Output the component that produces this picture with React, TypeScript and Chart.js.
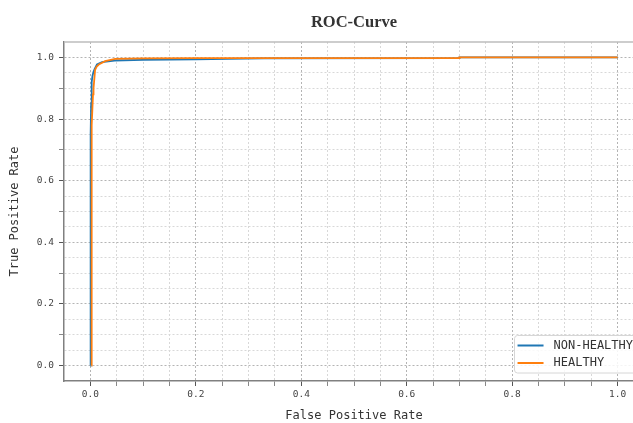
import { useEffect, useRef } from 'react';
import { Chart, registerables } from 'chart.js';

Chart.register(...registerables);

const chartTitle = 'ROC-Curve';
const xAxisTitle = 'False Positive Rate';
const yAxisTitle = 'True Positive Rate';
const seriesNames = ['NON-HEALTHY', 'HEALTHY'];
const seriesColors = ['#1f77b4', '#ff7f0e'];

const nonHealthyFpr = [0, 0, 0.0005, 0.001, 0.0015, 0.002, 0.003, 0.004, 0.006, 0.008, 0.0125, 0.022, 0.046, 0.1, 0.2, 0.26, 0.33, 0.7, 0.7, 1.0];
const nonHealthyTpr = [0, 0.45, 0.6, 0.75, 0.85, 0.89, 0.92, 0.94, 0.953, 0.962, 0.977, 0.985, 0.99, 0.992, 0.994, 0.995, 0.997, 0.998, 1.0, 1.0];

const healthyFpr = [0.002, 0.002, 0.0025, 0.003, 0.004, 0.005, 0.006, 0.008, 0.009, 0.012, 0.016, 0.028, 0.047, 0.1, 0.2, 0.7, 0.7, 1.0];
const healthyTpr = [0, 0.3, 0.6, 0.78, 0.84, 0.88, 0.9, 0.94, 0.96, 0.97, 0.977, 0.988, 0.995, 0.997, 0.998, 0.998, 1.0, 1.0];

const axisMin = -0.05;
const axisMax = 1.05;
const gridStep = 0.05;
const labelStep = 0.2;
const yTickStep = 0.1;

const mono = 'DejaVu Sans Mono';

function isMultiple(v: number, step: number) {
  const r = v / step;
  return Math.abs(r - Math.round(r)) < 1e-6;
}

function toPoints(xs: number[], ys: number[]) {
  return xs.map((x, i) => ({ x, y: ys[i] }));
}

const extrasPlugin = {
  id: 'rocExtras',
  afterDraw(chart: any) {
    const { ctx, chartArea } = chart;
    ctx.save();
    ctx.strokeStyle = '#bdbdbd';
    ctx.lineWidth = 1.5;
    ctx.beginPath();
    ctx.moveTo(chartArea.left, chartArea.top);
    ctx.lineTo(chartArea.right, chartArea.top);
    ctx.stroke();
    ctx.beginPath();
    ctx.moveTo(chartArea.right, chartArea.top);
    ctx.lineTo(chartArea.right, chartArea.bottom);
    ctx.stroke();

    // title centred over the plot area
    ctx.font = `bold 16.5px "Liberation Serif"`;
    ctx.fillStyle = '#333';
    ctx.textAlign = 'center';
    ctx.textBaseline = 'middle';
    ctx.fillText(chartTitle, (chartArea.left + chartArea.right) / 2, 22.5);

    ctx.font = `12px "${mono}"`;
    const textW = Math.max(...seriesNames.map((n) => ctx.measureText(n).width));
    const boxW = textW + 42;
    const boxH = 37.5;
    const right = chartArea.right - 8;
    const bottom = chartArea.bottom - 8;
    const left = right - boxW;
    const top = bottom - boxH;
    const r = 3;
    ctx.beginPath();
    ctx.moveTo(left + r, top);
    ctx.lineTo(right - r, top);
    ctx.arcTo(right, top, right, top + r, r);
    ctx.lineTo(right, bottom - r);
    ctx.arcTo(right, bottom, right - r, bottom, r);
    ctx.lineTo(left + r, bottom);
    ctx.arcTo(left, bottom, left, bottom - r, r);
    ctx.lineTo(left, top + r);
    ctx.arcTo(left, top, left + r, top, r);
    ctx.closePath();
    ctx.fillStyle = 'rgba(255,255,255,0.85)';
    ctx.fill();
    ctx.strokeStyle = '#d6d6d6';
    ctx.lineWidth = 1;
    ctx.stroke();

    seriesNames.forEach((name, i) => {
      const cy = top + 10 + i * 17.5;
      ctx.strokeStyle = seriesColors[i];
      ctx.lineWidth = 2;
      ctx.beginPath();
      ctx.moveTo(left + 3, cy);
      ctx.lineTo(left + 29, cy);
      ctx.stroke();
      ctx.fillStyle = '#333';
      ctx.textBaseline = 'middle';
      ctx.textAlign = 'left';
      ctx.fillText(name, left + 39, cy);
    });
    ctx.restore();
  },
};

export default function App() {
  const canvasRef = useRef<HTMLCanvasElement | null>(null);

  useEffect(() => {
    const canvas = canvasRef.current;
    if (!canvas) return;
    const gridColor = (ctx: any) => {
      const v = ctx.tick?.value;
      if (v === undefined) return 'transparent';
      if (v < -1e-6 || v > 1 + 1e-6) return 'transparent';
      return isMultiple(v, labelStep) ? '#b4b4b4' : '#d8d8d8';
    };
    const chart = new Chart(canvas, {
      type: 'line',
      data: {
        datasets: [
          {
            label: seriesNames[0],
            data: toPoints(nonHealthyFpr, nonHealthyTpr),
            borderColor: seriesColors[0],
            backgroundColor: seriesColors[0],
            borderWidth: 1.8,
            pointRadius: 0,
            tension: 0,
            fill: false,
            order: 1,
          },
          {
            label: seriesNames[1],
            data: toPoints(healthyFpr, healthyTpr),
            borderColor: seriesColors[1],
            backgroundColor: seriesColors[1],
            borderWidth: 1.8,
            pointRadius: 0,
            tension: 0,
            fill: false,
            order: 0,
          },
        ],
      },
      options: {
        responsive: false,
        animation: false,
        devicePixelRatio: 1,
        layout: { padding: { left: 0, right: 64, top: 42, bottom: 0 } },
        plugins: {
          legend: { display: false },
          tooltip: { enabled: false },
          title: { display: false },
        },
        scales: {
          x: {
            type: 'linear',
            min: axisMin,
            max: axisMax,
            afterFit: (scale: any) => {
              scale.height = 42;
            },
            ticks: {
              stepSize: gridStep,
              autoSkip: false,
              maxRotation: 0,
              padding: 3,
              color: '#444',
              font: { family: mono, size: 9.5 },
              callback: (value: any) => {
                const v = Number(value);
                return v >= -1e-6 && v <= 1 + 1e-6 && isMultiple(v, labelStep) ? v.toFixed(1) : '';
              },
            },
            grid: {
              color: gridColor,
              lineWidth: 1,
              tickLength: 5,
              tickColor: (ctx: any) => {
                const v = ctx.tick?.value;
                if (v === undefined || v < -1e-6 || v > 1 + 1e-6) return 'transparent';
                return isMultiple(v, labelStep) ? '#555' : '#888';
              },
            },
            border: { display: true, color: '#808080', width: 1.5, dash: [2, 2] },
            title: {
              display: true,
              text: xAxisTitle,
              color: '#333',
              font: { family: mono, size: 12 },
              padding: { top: 0, bottom: 0 },
            },
          },
          y: {
            type: 'linear',
            min: axisMin,
            max: axisMax,
            afterFit: (scale: any) => {
              scale.width = 64;
            },
            ticks: {
              stepSize: gridStep,
              autoSkip: false,
              padding: 5,
              color: '#444',
              font: { family: mono, size: 9.5 },
              callback: (value: any) => {
                const v = Number(value);
                return v >= -1e-6 && v <= 1 + 1e-6 && isMultiple(v, labelStep) ? v.toFixed(1) : '';
              },
            },
            grid: {
              color: gridColor,
              lineWidth: 1,
              tickLength: 5,
              tickColor: (ctx: any) => {
                const v = ctx.tick?.value;
                if (v === undefined || v < -1e-6 || v > 1 + 1e-6) return 'transparent';
                if (isMultiple(v, labelStep)) return '#555';
                return isMultiple(v, yTickStep) ? '#888' : 'transparent';
              },
            },
            border: { display: true, color: '#808080', width: 1.5, dash: [2, 2] },
            title: {
              display: true,
              text: yAxisTitle,
              color: '#333',
              font: { family: mono, size: 12 },
              padding: { top: 8, bottom: 0 },
            },
          },
        },
      },
      plugins: [extrasPlugin],
    } as any);
    return () => chart.destroy();
  }, []);

  return (
    <div style={{ position: 'fixed', left: 0, top: 0, width: 633, height: 423, overflow: 'hidden', background: '#fff' }}>
      <canvas ref={canvasRef} width={708} height={423} style={{ display: 'block' }} />
    </div>
  );
}
